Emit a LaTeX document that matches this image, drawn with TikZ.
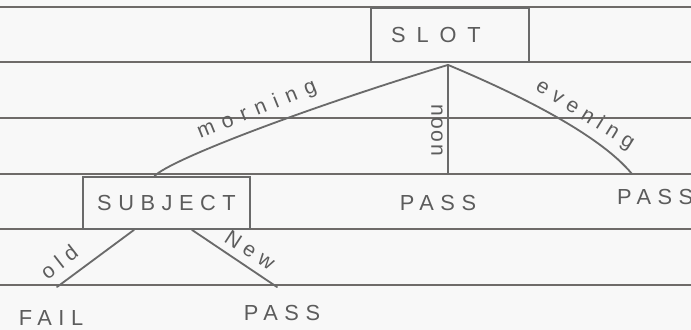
\documentclass[tikz,border=0pt]{standalone}
\usepackage{fontspec}
\setmainfont{Liberation Sans}
\newfontfamily\handA[LetterSpace=30]{Liberation Sans}
\newfontfamily\handB[LetterSpace=50]{Liberation Sans}
\newfontfamily\handC[LetterSpace=40]{Liberation Sans}
\newfontfamily\handD[LetterSpace=8]{Liberation Sans}
\usetikzlibrary{calc}
\definecolor{pencil}{HTML}{6A6A6A}
\definecolor{pentext}{HTML}{5C5C5C}
\definecolor{ruleline}{HTML}{6E6B69}
\definecolor{paper}{HTML}{F8F8F8}
\begin{document}
\begin{tikzpicture}[x=0.5mm,y=-0.5mm,
 pencilline/.style={draw=pencil,line width=2.6pt,line cap=round},
 box/.style={draw=pencil,line width=2.6pt,inner sep=0pt,text=pentext},
 caps/.style={text=pentext,font=\handA\fontsize{31}{31}\selectfont,inner sep=0pt},
 lbl/.style={text=pentext,font=\handA\fontsize{30}{30}\selectfont,inner sep=0pt},
 ruling/.style={draw=ruleline,line width=2.4pt}]
\useasboundingbox[fill=paper] (0,0) rectangle (691,330);
\foreach \yy in {6.7,62.3,118.3,174,229.3,285} \draw[ruling] (0,\yy) -- (691,\yy);
% boxes
\node[box,minimum width=79mm,minimum height=27mm,font=\handB\fontsize{31}{31}\selectfont] (slot) at (450,35) {SLOT\kern 40pt};
\node[box,minimum width=83.5mm,minimum height=26mm,font=\handA\fontsize{31}{31}\selectfont] (sub) at (166.5,203) {SUBJECT};
% leaves
\node[caps] (pass1) at (438,203) {PASS};
\node[caps,anchor=west] (pass2) at (617,197) {PASS};
\node[caps] (fail) at (51,318) {FAIL};
\node[caps] (pass3) at (282,313) {PASS};
% connector ends
\coordinate (apex) at ($(slot.south)+(-2,2)$);
\coordinate (noonend) at (448,174);
\coordinate (eveend) at (632,174);
\coordinate (oldend) at (57,287);
\coordinate (newend) at (277,287);
% connectors
\draw[pencilline] ($(sub.north)+(-12,0)$) .. controls (170,160) and (300,110) .. (apex);
\draw[pencilline] (apex) -- (noonend);
\draw[pencilline] (apex) .. controls (520,95) and (600,135) .. (eveend);
\draw[pencilline] ($(sub.south)+(-32.5,0)$) -- (oldend);
\draw[pencilline] ($(sub.south)+(25.5,0)$) -- (newend);
% labels
\node[lbl,font=\handC\fontsize{30}{30}\selectfont,rotate=22] (lmorning) at (257,110) {morning};
\node[lbl,font=\handD\fontsize{30}{30}\selectfont,rotate=-90] (lnoon) at (437,130) {noon};
\node[lbl,rotate=-32] (levening) at (585,115) {evening};
\node[lbl,rotate=38] (lold) at (59,262) {old};
\node[lbl,rotate=-33] (lnew) at (250,250) {New};
\end{tikzpicture}
\end{document}
